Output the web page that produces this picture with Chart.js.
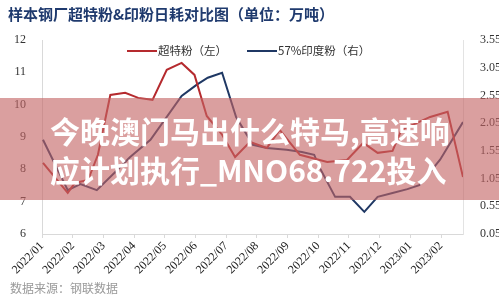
<!DOCTYPE html>
<html>
<head>
<meta charset="utf-8">
<script src="https://cdn.jsdelivr.net/npm/chart.js@4.4.0/dist/chart.umd.min.js"></script>
<style>
  body { margin: 0; background: #fff; }
  #wrap { width: 499px; height: 300px; }
</style>
</head>
<body>
<div id="wrap"><canvas id="chart" width="499" height="300"></canvas></div>
<script>
// month labels on the date axis
const monthLabels = ['2022/01', '2022/02', '2022/03', '2022/04', '2022/05', '2022/06', '2022/07',
  '2022/08', '2022/09', '2022/10', '2022/11', '2022/12', '2023/01', '2023/02'];

// 超特粉 daily consumption (left axis)
const superDates = ['2022-01-02', '2022-01-27', '2022-02-03', '2022-02-15', '2022-02-24', '2022-03-08',
  '2022-03-23', '2022-04-05', '2022-04-19', '2022-05-03', '2022-05-18', '2022-05-31', '2022-06-12',
  '2022-06-27', '2022-07-10', '2022-07-25', '2022-08-11', '2022-08-24', '2022-09-13', '2022-10-10',
  '2022-10-30', '2022-11-15', '2022-11-29', '2022-12-14', '2022-12-23', '2023-01-21', '2023-02-07',
  '2023-02-21'];
const superValues = [8.20, 7.27, 7.58, 7.67, 8.45, 10.30, 10.37, 10.21, 10.15, 11.08, 11.29, 10.92, 9.65,
  9.07, 8.38, 8.85, 8.66, 9.22, 8.45, 8.23, 8.29, 8.82, 8.51, 8.57, 9.22, 9.62, 9.78, 7.76];

// 57%印度粉 daily consumption (right axis)
const indiaDates = ['2022-01-02', '2022-01-27', '2022-02-08', '2022-02-23', '2022-03-13', '2022-03-28',
  '2022-04-17', '2022-05-18', '2022-06-02', '2022-06-13', '2022-06-27', '2022-07-11', '2022-07-28',
  '2022-08-11', '2022-08-31', '2022-09-15', '2022-09-27', '2022-10-02', '2022-10-18', '2022-11-02',
  '2022-11-16', '2022-11-29', '2022-12-14', '2022-12-29', '2023-01-10', '2023-01-31', '2023-02-21'];
const indiaValues = [1.75, 0.84, 0.95, 0.84, 1.17, 1.44, 1.75, 2.54, 2.74, 2.87, 2.96, 2.16, 1.66,
  1.60, 1.57, 1.53, 1.48, 1.26, 0.72, 0.72, 0.45, 0.72, 0.79, 0.86, 0.93, 1.39, 2.07];

const leftTicks = [6, 7, 8, 9, 10, 11, 12];
const rightTicks = [0.05, 0.55, 1.05, 1.55, 2.05, 2.55, 3.05, 3.55];

const titleText = '样本钢厂超特粉&印粉日耗对比图（单位：万吨）';
const sourceText = '数据来源：钢联数据';
const bannerLines = ['今晚澳门马出什么特马,高速响', '应计划执行_MNO68.722投入'];

// turn a date string into a month position (0 = 2022/01)
function monthPos(str) {
  const [y, m, d] = str.split('-').map(Number);
  const days = new Date(y, m, 0).getDate();
  return (y - 2022) * 12 + (m - 1) + (d - 1) / days;
}

const superPoints = superDates.map((d, i) => ({ x: monthPos(d), y: superValues[i] }));
const indiaPoints = indiaDates.map((d, i) => ({ x: monthPos(d), y: indiaValues[i] }));
const xMax = monthPos(superDates[superDates.length - 1]);

// title, legend, source note and the banner on top
const decorPlugin = {
  id: 'decor',
  afterDraw(chart) {
    const ctx = chart.ctx;
    ctx.save();
    // title
    ctx.fillStyle = '#1f3a6e';
    ctx.font = 'bold 15px "Noto Sans CJK SC"';
    ctx.textBaseline = 'middle';
    ctx.textAlign = 'left';
    ctx.fillText(titleText, 8, 14);

    // legend
    ctx.font = '11.5px "Noto Sans CJK SC"';
    ctx.lineWidth = 2;
    const items = [{ x: 127, ds: chart.data.datasets[0] }, { x: 247, ds: chart.data.datasets[1] }];
    items.forEach(it => {
      ctx.strokeStyle = it.ds.borderColor;
      ctx.beginPath();
      ctx.moveTo(it.x, 51);
      ctx.lineTo(it.x + 30, 51);
      ctx.stroke();
      ctx.fillStyle = '#333';
      ctx.fillText(it.ds.label, it.x + 31, 51);
    });

    // source
    ctx.fillStyle = '#999';
    ctx.font = '12px "Noto Sans CJK SC"';
    ctx.fillText(sourceText, 10, 288);

    // banner
    ctx.fillStyle = 'rgba(196, 100, 100, 0.62)';
    ctx.fillRect(0, 98, 499, 102);
    ctx.fillStyle = '#fff';
    ctx.font = 'bold 30px "Noto Sans CJK SC"';
    ctx.fillText(bannerLines[0], 50, 132);
    ctx.fillText(bannerLines[1], 50, 171);
    ctx.restore();
  }
};

const tickFont = { family: '"Liberation Serif", serif', size: 12 };

new Chart(document.getElementById('chart'), {
  type: 'line',
  data: {
    datasets: [{
      label: '超特粉（左）',
      data: superPoints,
      borderColor: '#b52a2e',
      borderWidth: 2,
      pointRadius: 0,
      tension: 0,
      yAxisID: 'yL'
    }, {
      label: '57%印度粉（右）',
      data: indiaPoints,
      borderColor: '#1f3864',
      borderWidth: 2,
      pointRadius: 0,
      tension: 0,
      yAxisID: 'yR'
    }]
  },
  options: {
    responsive: false,
    animation: false,
    layout: { padding: { top: 40, left: 0, right: 0, bottom: 0 } },
    plugins: {
      legend: { display: false },
      title: { display: false },
      tooltip: { enabled: false }
    },
    scales: {
      x: {
        type: 'linear',
        min: 0,
        max: xMax,
        afterBuildTicks: s => { s.ticks = monthLabels.map((l, i) => ({ value: i })); },
        afterFit: s => { s.height = 66; },
        ticks: {
          autoSkip: false,
          maxRotation: 45,
          minRotation: 45,
          padding: 1,
          color: '#222',
          font: { family: '"Liberation Serif", serif', size: 12 },
          callback: v => monthLabels[v]
        },
        grid: { drawOnChartArea: false, tickLength: 4, color: '#d9d9d9' },
        border: { color: '#d9d9d9' }
      },
      yL: {
        position: 'left',
        min: 6,
        max: 12,
        afterBuildTicks: s => { s.ticks = leftTicks.map(v => ({ value: v })); },
        afterFit: s => { s.width = 42; },
        ticks: { color: '#333', font: tickFont, padding: 8 },
        grid: { display: false },
        border: { color: '#d9d9d9' }
      },
      yR: {
        position: 'right',
        min: 0.05,
        max: 3.55,
        afterBuildTicks: s => { s.ticks = rightTicks.map(v => ({ value: v })); },
        afterFit: s => { s.width = 36; },
        ticks: { color: '#333', font: tickFont, padding: 9, callback: v => v.toFixed(2) },
        grid: { display: false },
        border: { color: '#e3e3e3' }
      }
    }
  },
  plugins: [decorPlugin]
});
</script>
</body>
</html>
